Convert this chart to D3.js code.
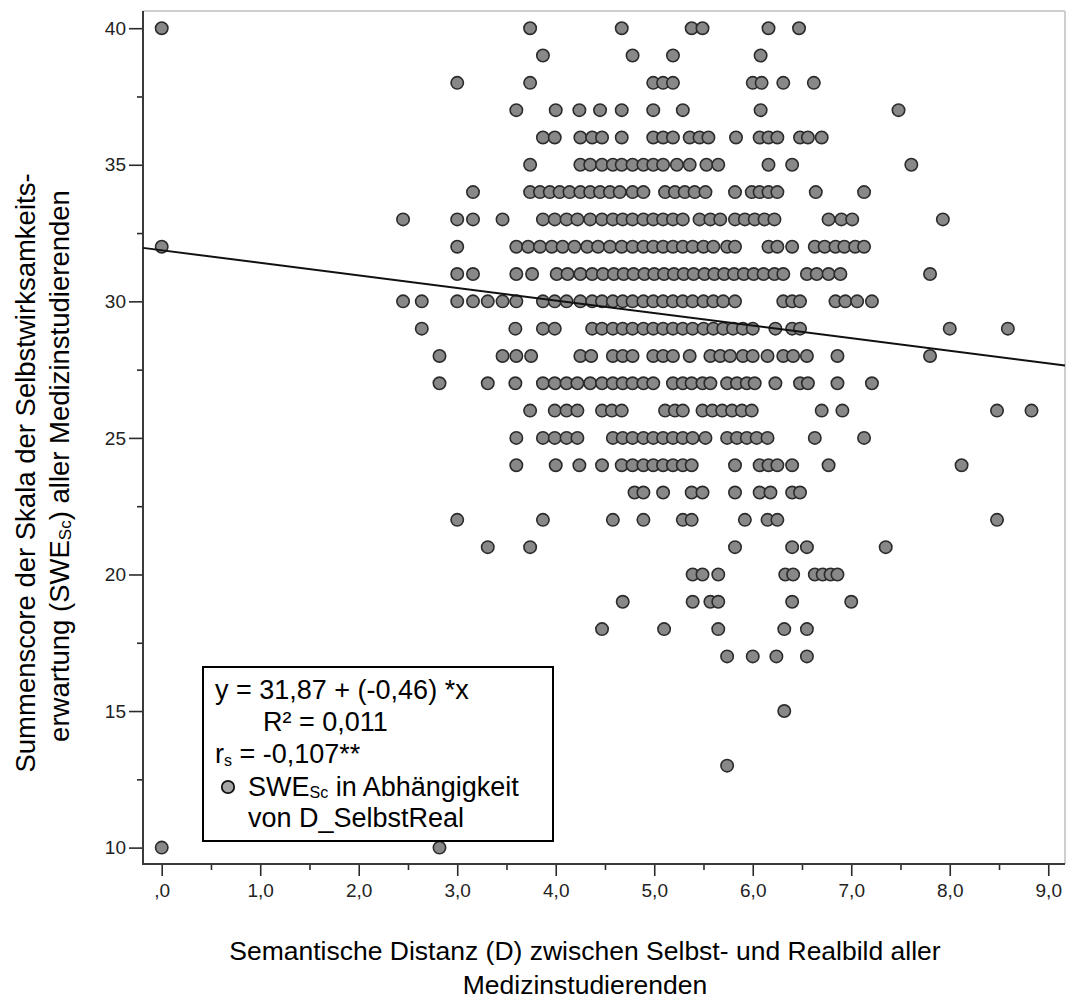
<!DOCTYPE html>
<html>
<head>
<meta charset="utf-8">
<script src="https://cdn.jsdelivr.net/npm/d3@7"></script>
<style>
  body { margin: 0; background: #fff; }
  svg { display: block; }
  text { font-family: Arial, "Liberation Sans", sans-serif; }
</style>
</head>
<body>
<svg id="chart" width="1067" height="1002"></svg>
<script>
// Semantic distance (D_SelbstReal) of each student, grouped by SWE_Sc sum score
const distance40 = [0, 3.74, 4.67, 5.38, 5.49, 6.16, 6.47];
const distance39 = [3.87, 4.78, 5.19, 6.08];
const distance38 = [3.00, 3.74, 4.99, 5.09, 5.19, 6.00, 6.09, 6.31, 6.62];
const distance37 = [3.60, 4.00, 4.24, 4.45, 4.67, 4.99, 5.29, 6.08, 7.48];
const distance36 = [3.87, 3.99, 4.25, 4.37, 4.47, 4.67, 4.99, 5.09, 5.19, 5.36, 5.46, 5.55, 5.83, 6.07, 6.16, 6.25, 6.48, 6.56, 6.70];
const distance35 = [3.74, 4.25, 4.35, 4.47, 4.58, 4.67, 4.78, 4.89, 4.99, 5.09, 5.23, 5.36, 5.53, 5.65, 6.16, 6.40, 7.61];
const distance34 = [3.16, 3.74, 3.84, 3.94, 4.04, 4.14, 4.25, 4.35, 4.45, 4.55, 4.65, 4.78, 4.89, 5.11, 5.21, 5.31, 5.41, 5.52, 5.82, 5.99, 6.07, 6.16, 6.25, 6.64, 7.13];
const distance33 = [2.45, 3.00, 3.16, 3.46, 3.87, 3.99, 4.11, 4.22, 4.35, 4.47, 4.58, 4.68, 4.78, 4.89, 4.99, 5.09, 5.19, 5.29, 5.46, 5.57, 5.67, 5.82, 5.92, 6.02, 6.12, 6.22, 6.77, 6.90, 7.01, 7.93];
const distance32 = [0, 3.00, 3.60, 3.72, 3.84, 3.96, 4.07, 4.19, 4.32, 4.43, 4.55, 4.67, 4.78, 4.89, 4.99, 5.09, 5.19, 5.29, 5.39, 5.50, 5.60, 5.74, 5.82, 6.16, 6.25, 6.40, 6.63, 6.73, 6.84, 6.93, 7.04, 7.13];
const distance31 = [3.00, 3.16, 3.60, 3.76, 4.01, 4.12, 4.25, 4.37, 4.48, 4.59, 4.69, 4.79, 4.90, 5.00, 5.10, 5.20, 5.30, 5.40, 5.51, 5.61, 5.71, 5.81, 5.91, 6.01, 6.11, 6.22, 6.31, 6.55, 6.65, 6.77, 6.89, 7.80];
const distance30 = [2.45, 2.64, 3.00, 3.16, 3.31, 3.46, 3.60, 3.87, 3.99, 4.11, 4.25, 4.37, 4.47, 4.58, 4.68, 4.78, 4.89, 4.99, 5.09, 5.19, 5.29, 5.39, 5.50, 5.60, 5.70, 5.82, 6.31, 6.40, 6.48, 6.84, 6.94, 7.06, 7.21];
const distance29 = [2.64, 3.59, 3.87, 3.99, 4.37, 4.47, 4.58, 4.68, 4.78, 4.89, 4.99, 5.09, 5.19, 5.29, 5.39, 5.50, 5.60, 5.70, 5.80, 5.90, 6.00, 6.23, 6.40, 6.48, 8.00, 8.59];
const distance28 = [2.82, 3.46, 3.60, 3.75, 4.25, 4.36, 4.58, 4.68, 4.78, 4.99, 5.09, 5.19, 5.36, 5.57, 5.67, 5.77, 5.90, 6.00, 6.15, 6.31, 6.41, 6.55, 6.86, 7.80];
const distance27 = [2.82, 3.31, 3.59, 3.87, 3.99, 4.11, 4.22, 4.35, 4.47, 4.58, 4.68, 4.78, 4.89, 4.99, 5.19, 5.29, 5.38, 5.49, 5.57, 5.74, 5.84, 5.94, 6.02, 6.23, 6.48, 6.56, 6.86, 7.21];
const distance26 = [3.74, 3.99, 4.11, 4.22, 4.47, 4.57, 4.67, 5.11, 5.21, 5.29, 5.49, 5.59, 5.69, 5.79, 5.89, 5.99, 6.70, 6.91, 8.48, 8.83];
const distance25 = [3.60, 3.87, 3.99, 4.11, 4.22, 4.58, 4.68, 4.78, 4.89, 4.99, 5.09, 5.19, 5.29, 5.39, 5.52, 5.74, 5.84, 5.94, 6.04, 6.15, 6.63, 7.13];
const distance24 = [3.60, 4.00, 4.24, 4.47, 4.67, 4.78, 4.89, 4.99, 5.09, 5.19, 5.29, 5.38, 5.82, 6.07, 6.16, 6.25, 6.40, 6.77, 8.12];
const distance23 = [4.80, 4.89, 5.09, 5.38, 5.49, 5.82, 6.07, 6.18, 6.40, 6.48];
const distance22 = [3.00, 3.87, 4.58, 4.89, 5.29, 5.38, 5.92, 6.15, 6.25, 8.48];
const distance21 = [3.31, 3.74, 5.82, 6.40, 6.55, 7.35];
const distance20 = [5.39, 5.49, 5.65, 6.33, 6.41, 6.63, 6.71, 6.79, 6.86];
const distance19 = [4.68, 5.39, 5.57, 5.65, 6.40, 7.00];
const distance18 = [4.47, 5.10, 5.65, 6.32, 6.55];
const distance17 = [5.74, 6.00, 6.24, 6.55];
const distance15 = [6.32];
const distance13 = [5.74];
const distance10 = [0, 2.82];

const scoreRows = [
  [40, distance40], [39, distance39], [38, distance38], [37, distance37],
  [36, distance36], [35, distance35], [34, distance34], [33, distance33],
  [32, distance32], [31, distance31], [30, distance30], [29, distance29],
  [28, distance28], [27, distance27], [26, distance26], [25, distance25],
  [24, distance24], [23, distance23], [22, distance22], [21, distance21],
  [20, distance20], [19, distance19], [18, distance18], [17, distance17],
  [15, distance15], [13, distance13], [10, distance10]
];

// Axis ticks
const xTicks = [0, 1, 2, 3, 4, 5, 6, 7, 8, 9];
const xMinorTicks = [0.5, 1.5, 2.5, 3.5, 4.5, 5.5, 6.5, 7.5, 8.5];
const yTicks = [10, 15, 20, 25, 30, 35, 40];
const yMinorTicks = [12.5, 17.5, 22.5, 27.5, 32.5, 37.5];

// Linear fit and correlation shown in the legend
const fitIntercept = 31.87;
const fitSlope = -0.46;
const rSquared = 0.011;
const spearmanRho = -0.107;

const points = scoreRows.flatMap(([score, ds]) => ds.map(d => ({ d, score })));

const svg = d3.select("#chart");
const frame = { left: 143, right: 1065, top: 11, bottom: 864 };

const x = d3.scaleLinear().domain([-0.19, 9.17]).range([frame.left, frame.right]);
const y = d3.scaleLinear().domain([9.4, 40.63]).range([frame.bottom, frame.top]);

const comma = v => String(v).replace(".", ",");
const tickColor = "#2a2a2a";

// Light frame on top and right
svg.append("line").attr("x1", frame.left).attr("x2", frame.right).attr("y1", frame.top).attr("y2", frame.top)
  .attr("stroke", "#cfcfcf").attr("stroke-width", 2);
svg.append("line").attr("x1", frame.right).attr("x2", frame.right).attr("y1", frame.top).attr("y2", frame.bottom)
  .attr("stroke", "#cfcfcf").attr("stroke-width", 2);

// Y axis
const yAxis = svg.append("g").attr("transform", `translate(${frame.left},0)`)
  .call(d3.axisLeft(y).tickValues(yTicks).tickSize(14).tickPadding(3).tickFormat(d3.format("d")));
const yMinor = svg.append("g").attr("transform", `translate(${frame.left},0)`)
  .call(d3.axisLeft(y).tickValues(yMinorTicks).tickSize(6).tickFormat(""));

// X axis
const xAxis = svg.append("g").attr("transform", `translate(0,${frame.bottom})`)
  .call(d3.axisBottom(x).tickValues(xTicks).tickSize(12).tickPadding(8)
    .tickFormat(d => d === 0 ? ",0" : comma(d.toFixed(1))));
const xMinor = svg.append("g").attr("transform", `translate(0,${frame.bottom})`)
  .call(d3.axisBottom(x).tickValues(xMinorTicks).tickSize(6).tickFormat(""));

[yAxis, yMinor, xAxis, xMinor].forEach(g => {
  g.select(".domain").remove();
  g.selectAll(".tick line").attr("stroke", tickColor).attr("stroke-width", 1.6);
  g.selectAll(".tick text").attr("fill", "#222").style("font-size", "19px")
    .style("font-family", "Arial, 'Liberation Sans', sans-serif");
});

// Axis lines
svg.append("line").attr("x1", frame.left).attr("x2", frame.left).attr("y1", frame.top).attr("y2", frame.bottom + 1)
  .attr("stroke", "#3a3a3a").attr("stroke-width", 2);
svg.append("line").attr("x1", frame.left - 1).attr("x2", frame.right).attr("y1", frame.bottom).attr("y2", frame.bottom)
  .attr("stroke", "#3a3a3a").attr("stroke-width", 2);

// Points
svg.append("g").selectAll("circle").data(points).join("circle")
  .attr("cx", p => x(p.d)).attr("cy", p => y(p.score)).attr("r", 6.2)
  .attr("fill", "#888888").attr("stroke", "#2b2b2b").attr("stroke-width", 1.6);

// Regression line
const [d0, d1] = x.domain();
svg.append("line")
  .attr("x1", x(d0)).attr("y1", y(fitIntercept + fitSlope * d0))
  .attr("x2", x(d1)).attr("y2", y(fitIntercept + fitSlope * d1))
  .attr("stroke", "#111").attr("stroke-width", 2);

// Legend
const legend = svg.append("g");
legend.append("rect").attr("x", 203).attr("y", 667).attr("width", 350).attr("height", 174)
  .attr("fill", "#fff").attr("stroke", "#000").attr("stroke-width", 2);
const lg = { size: 27, sub: 16 };
legend.append("text").attr("x", 215).attr("y", 699).style("font-size", lg.size + "px")
  .text(`y = ${comma(fitIntercept)} + (${comma(fitSlope)}) *x`);
legend.append("text").attr("x", 263).attr("y", 731).style("font-size", lg.size + "px")
  .text(`R² = ${comma(rSquared)}`);
const rsLine = legend.append("text").attr("x", 215).attr("y", 763).style("font-size", lg.size + "px");
rsLine.append("tspan").text("r");
rsLine.append("tspan").attr("dy", 3).style("font-size", lg.sub + "px").text("s");
rsLine.append("tspan").attr("dy", -3).text(` = ${comma(spearmanRho)}**`);
legend.append("circle").attr("cx", 228).attr("cy", 787).attr("r", 6.2)
  .attr("fill", "#a6a6a6").attr("stroke", "#111").attr("stroke-width", 1.8);
const swLine = legend.append("text").attr("x", 248).attr("y", 796).style("font-size", lg.size + "px");
swLine.append("tspan").text("SWE");
swLine.append("tspan").attr("dy", 2).style("font-size", lg.sub + "px").text("Sc");
swLine.append("tspan").attr("dy", -2).text(" in Abhängigkeit");
legend.append("text").attr("x", 248).attr("y", 827).style("font-size", lg.size + "px")
  .text("von D_SelbstReal");

// Axis titles
svg.append("text").attr("x", 585).attr("y", 960).attr("text-anchor", "middle")
  .style("font-size", "26.5px").text("Semantische Distanz (D) zwischen Selbst- und Realbild aller");
svg.append("text").attr("x", 585).attr("y", 994).attr("text-anchor", "middle")
  .style("font-size", "26.5px").text("Medizinstudierenden");

const yTitle = svg.append("g").attr("transform", "rotate(-90)");
yTitle.append("text").attr("x", -473).attr("y", 35).attr("text-anchor", "middle")
  .style("font-size", "27.5px").text("Summenscore der Skala der Selbstwirksamkeits-");
const yt2 = yTitle.append("text").attr("x", -466).attr("y", 69).attr("text-anchor", "middle")
  .style("font-size", "27.5px");
yt2.append("tspan").text("erwartung (SWE");
yt2.append("tspan").attr("dy", 2).style("font-size", "17px").text("Sc");
yt2.append("tspan").attr("dy", -2).text(") aller Medizinstudierenden");
</script>
</body>
</html>
